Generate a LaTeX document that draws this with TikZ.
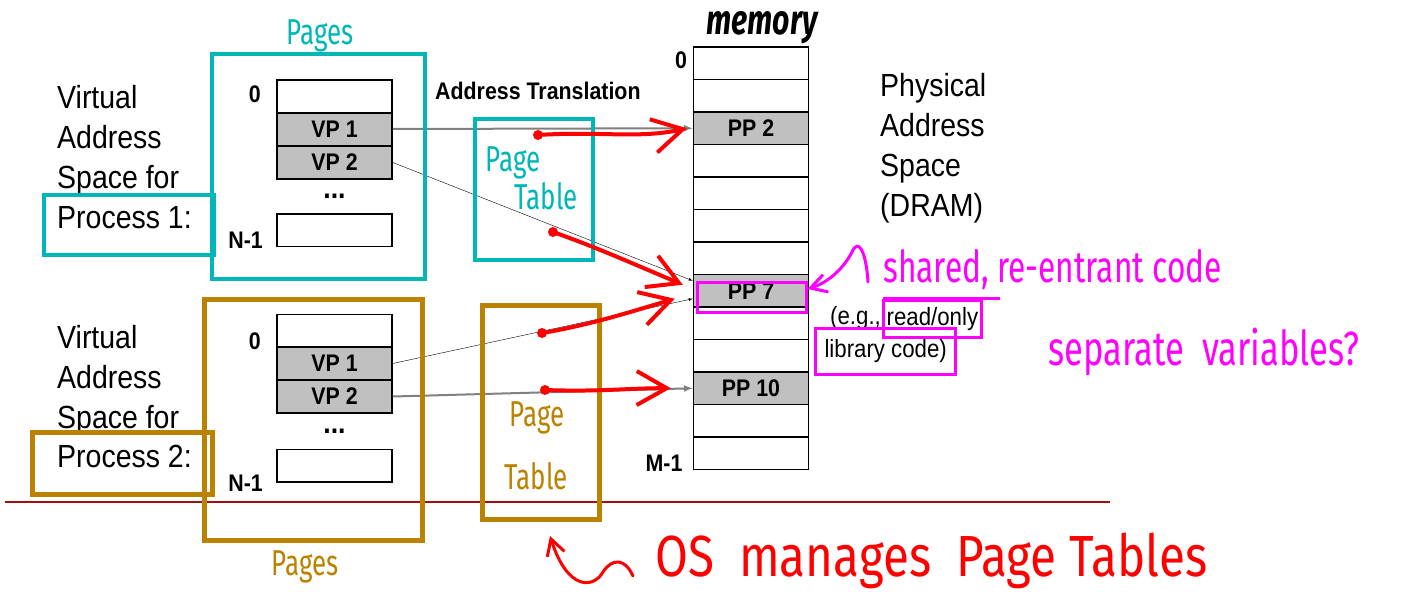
\documentclass[tikz,border=0pt]{standalone}
\usepackage{fontspec}
\setmainfont{Liberation Sans}[FakeStretch=0.89]
\newfontfamily\hand{Fira Sans}[FakeStretch=0.72]
\newfontfamily\handwide{Fira Sans}[FakeStretch=0.82]
\usetikzlibrary{positioning, arrows.meta}
\definecolor{tealpen}{RGB}{0,182,182}
\definecolor{goldpen}{RGB}{186,130,0}
\definecolor{redpen}{RGB}{255,0,0}
\definecolor{pinkpen}{RGB}{255,0,255}
\definecolor{cellgray}{RGB}{192,192,192}
\definecolor{rulered}{RGB}{160,16,16}
\tikzset{
	cell/.style={draw, rectangle, line width=1.5pt, minimum width=115pt, minimum height=32.5pt, inner sep=0pt, font=\fontsize{24}{24}\selectfont\bfseries},
	page/.style={cell, fill=cellgray},
	lbl/.style={inner sep=0pt, font=\fontsize{24}{24}\selectfont\bfseries},
	dots/.style={inner sep=0pt, anchor=base, font=\fontsize{30}{30}\selectfont\bfseries},
	big/.style={inner sep=0pt, align=left, font=\fontsize{32}{40}\selectfont},
	small/.style={inner sep=0pt, font=\fontsize{25}{25}\selectfont},
	tealbox/.style={draw=tealpen, line width=4pt, rectangle, inner sep=0pt},
	goldbox/.style={draw=goldpen, line width=5pt, rectangle, inner sep=0pt},
	pinkbox/.style={draw=pinkpen, line width=3pt, rectangle},
	pen/.style={line width=4pt, line cap=round, line join=round, -{Straight Barb[length=30pt, width=34pt]}},
	ink/.style={inner sep=0pt, font=\hand\fontsize{36}{36}\selectfont}
}

\begin{document}
\begin{tikzpicture}[x=1pt, y=-1pt]
	\useasboundingbox (0,0) rectangle (1408,594);

	% physical memory
	\foreach \i in {0,...,12}
		\node (m\i) [cell] at (751, {63.25+32.5*\i}) {};
	\node (m2) [page] at (751, 128.25) {PP 2};
	\node (m7) [page] at (751, 290.75) {PP 7};
	\node (m10) [page] at (751, 388.25) {PP 10};
	\node (mz) [lbl] at (681,60) {0};
	\node (mm) [lbl] at (664,463) {M-1};
	\node (phys) [big, anchor=north west] at (880,73) {Physical\\Address\\Space\\(DRAM)};

	% process 1
	\node (p1z) [cell] at (334.5,96) {};
	\node (p1vp1) [page] at (334.5,129) {VP 1};
	\node (p1vp2) [page] at (334.5,162.5) {VP 2};
	\node (p1n) [cell] at (334.5,230) {};
	\node (p1dots) [dots] at (334.5,198) {...};
	\node (p1zl) [lbl, anchor=east] at (261,94) {0};
	\node (p1nl) [lbl, anchor=east] at (263,240) {N-1};
	\node (vas1) [big, anchor=north west] at (57,85) {Virtual\\Address\\Space for};
	\node (proc1) [big, anchor=base west] at (57,228) {Process 1:};

	% process 2
	\node (p2z) [cell] at (334.5,330.5) {};
	\node (p2vp1) [page] at (334.5,363.5) {VP 1};
	\node (p2vp2) [page] at (334.5,396.5) {VP 2};
	\node (p2n) [cell] at (334.5,465.5) {};
	\node (p2dots) [dots] at (334.5,433) {...};
	\node (p2zl) [lbl, anchor=east] at (261,341) {0};
	\node (p2nl) [lbl, anchor=east] at (263,483) {N-1};
	\node (vas2) [big, anchor=north west] at (57,325) {Virtual\\Address\\Space for};
	\node (proc2) [big, anchor=base west] at (57,467) {Process 2:};

	\node (trans) [lbl, anchor=north west] at (435,82) {Address Translation};
	\node (eg) [small, anchor=west] at (830,318) {(e.g.,};
	\node (ro) [small, pinkbox, right=1pt of eg, inner xsep=3pt, minimum height=37pt, yshift=-1pt] {read/only};
	\node (lib) [small, pinkbox, anchor=west, inner xsep=9pt, minimum height=46pt] at (814,351) {library code)};

	\begin{scope}[->, >=latex]
		\draw [gray, line width=2pt] (p1vp1.east) -- (m2.west);
		\draw [thin] (p1vp2.east) -- ([yshift=10pt]m7.west);
		\draw [thin] (p2vp1.east) -- ([yshift=-8pt]m7.west);
		\draw [gray, line width=2pt] (p2vp2.east) -- (m10.west);
	\end{scope}

	\draw [rulered, line width=2.5pt] (5,502) -- (1110,502);

	% teal annotations
	\node (pg1) [tealbox, minimum width=213pt, minimum height=225pt, anchor=north west] at (210,52) {};
	\node (pb1) [tealbox, minimum width=170pt, minimum height=60pt, anchor=north west] at (42,193) {};
	\node (pt1) [tealbox, minimum width=118pt, minimum height=141pt, anchor=north west] at (473,117) {};
	\node (pgl1) [ink, text=tealpen] at (320,36) {Pages};
	\node (ptl1) [ink, text=tealpen] at (513,163) {Page};
	\node (ptl1b) [ink, text=tealpen] at (546,196) {Table};

	% gold annotations
	\node (pg2) [goldbox, minimum width=218pt, minimum height=241pt, anchor=north west] at (202,297) {};
	\node (pb2) [goldbox, minimum width=180pt, minimum height=62pt, anchor=north west] at (30,430) {};
	\node (pt2) [goldbox, minimum width=117pt, minimum height=214pt, anchor=north west] at (480,303) {};
	\node (pgl2) [ink, text=goldpen] at (305,567) {Pages};
	\node (ptl2) [ink, text=goldpen] at (537,418) {Page};
	\node (ptl2b) [ink, text=goldpen] at (536,476) {Table};

	% red pen
	\coordinate (r1) at (538,135);
	\coordinate (r2) at (553,232);
	\coordinate (r3) at (542,333);
	\coordinate (r4) at (545,390);
	\begin{scope}[redpen]
		\draw [pen] (r1) .. controls (600,131) and (640,139) .. ([xshift=-6pt]m2.west);
		\draw [pen] (r2) .. controls (590,245) and (620,258) .. ([xshift=-10pt, yshift=6pt]m7.west);
		\draw [pen] (r3) .. controls (590,325) and (630,312) .. ([xshift=-18pt, yshift=-8pt]m7.west);
		\draw [pen] (r4) .. controls (600,392) and (630,388) .. ([xshift=-22pt]m10.west);
		\foreach \p in {r1, r2, r3, r4}
			\fill (\p) circle (5pt);
		\coordinate (sq) at (633,576);
		\draw [line width=3pt, line cap=round, -{Straight Barb[length=16pt, width=18pt]}] (sq) .. controls (625,558) and (612,558) .. (603,572) .. controls (594,588) and (568,592) .. (550,536);
		\node (os) [ink, text=redpen, anchor=base west, font=\handwide\fontsize{58}{58}\selectfont] at (655,576) {OS\ \ manages\ \ Page Tables};
	\end{scope}

	% pink pen
	\node (hl) [pinkbox, minimum width=109pt, minimum height=30pt, inner sep=0pt] at (751.5,297) {};
	\draw [pinkpen, line width=3pt, line cap=round, -{Straight Barb[length=16pt, width=18pt]}] (868,282) .. controls (866,250) and (858,238) .. (852,252) .. controls (845,266) and (830,282) .. ([yshift=8pt]hl.east);
	\node (shr) [ink, text=pinkpen, anchor=west, font=\hand\fontsize{44}{44}\selectfont] at (883,270) {shared, re-entrant code};
	\draw [pinkpen, line width=3pt] (883,298) -- (1000,298);
	\node (sep) [ink, text=pinkpen, anchor=west, font=\hand\fontsize{48}{48}\selectfont] at (1048,352) {separate\ \ variables?};

	% black pen
	\node (mem) [ink, font=\hand\fontsize{42}{42}\selectfont\bfseries\itshape] at (762,28) {memory};
\end{tikzpicture}
\end{document}
